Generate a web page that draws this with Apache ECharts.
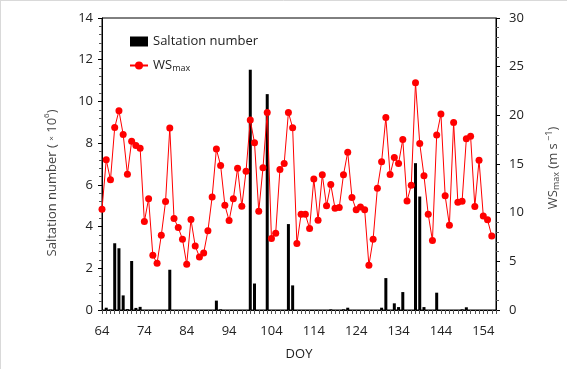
<!DOCTYPE html>
<html>
<head>
<meta charset="utf-8">
<script src="https://cdn.jsdelivr.net/npm/echarts@6/dist/echarts.min.js"></script>
<style>
html,body{margin:0;padding:0;background:#fff;}
#c{width:567px;height:369px;}
</style>
</head>
<body>
<div id="c"></div>
<script>
// DOY categories 64..157
const doy = [];
for (let d = 64; d <= 157; d++) doy.push(String(d));

// Saltation number (x10^6), DOY 64..156
const saltation = [
  0, 0.11, 0.02, 3.2, 2.96, 0.7, 0.04, 2.35, 0.1, 0.15,      // 64-73
  0, 0, 0, 0, 0, 0, 1.93, 0, 0, 0,                           // 74-83
  0, 0, 0, 0, 0, 0, 0, 0.45, 0.03, 0,                        // 84-93
  0, 0, 0, 0, 0, 11.52, 1.27, 0, 0, 10.35,                   // 94-103
  0, 0, 0, 0, 4.12, 1.18, 0, 0, 0, 0,                        // 104-113
  0, 0, 0, 0, 0.03, 0, 0, 0.03, 0.11, 0,                     // 114-123
  0, 0, 0, 0, 0, 0, 0.11, 1.53, 0, 0.32,                     // 124-133
  0.14, 0.86, 0, 0, 7.04, 5.44, 0.14, 0, 0, 0.83,            // 134-143
  0, 0, 0, 0, 0, 0.03, 0.13, 0, 0, 0,                        // 144-153
  0, 0, 0, null                                              // 154-157
];

// WSmax (m s-1), DOY 64..156
const wsmax = [
  10.35, 15.43, 13.37, 18.75, 20.47, 18.03, 13.95, 17.35, 16.9, 16.63,  // 64-73
  9.09, 11.42, 5.62, 4.8, 7.68, 11.14, 18.69, 9.39, 8.47, 7.27,         // 74-83
  4.7, 9.29, 6.58, 5.45, 5.86, 8.13, 11.62, 16.53, 14.85, 10.77,        // 84-93
  9.19, 11.42, 14.57, 10.66, 14.26, 19.51, 17.18, 10.15, 14.61, 20.3,   // 94-103
  7.34, 7.89, 14.43, 15.05, 20.3, 18.72, 6.82, 9.84, 9.84, 8.37,        // 104-113
  13.47, 9.22, 13.89, 10.7, 12.89, 10.46, 10.53, 13.89, 16.22, 11.55,   // 114-123
  10.29, 10.59, 10.29, 4.59, 7.27, 12.51, 15.22, 19.78, 13.92, 15.67,   // 124-133
  15.05, 17.52, 11.21, 12.82, 23.35, 17.11, 13.78, 9.84, 7.13, 17.97,   // 134-143
  20.13, 11.73, 8.71, 19.27, 11.07, 11.18, 17.59, 17.86, 10.63, 15.39,  // 144-153
  9.67, 9.26, 7.61, null                                                // 154-157
];

const FONT = 'Open Sans';
const chart = echarts.init(document.getElementById('c'), null, {renderer: 'canvas'});

const option = {
  animation: false,
  backgroundColor: '#fff',
  textStyle: {fontFamily: FONT},
  grid: {left: 102, right: 71, top: 18, bottom: 59, show: true, borderColor: '#000', borderWidth: 1, backgroundColor: 'transparent'},
  legend: {
    orient: 'vertical', left: 124, top: 30, itemGap: 11, itemWidth: 18, itemHeight: 10,
    data: [
      {name: 'Saltation number', icon: 'rect'},
      {name: 'WSmax'}
    ],
    formatter: function (n) { return n === 'WSmax' ? '{a|WS}{b|max}' : n; },
    textStyle: {fontFamily: FONT, fontSize: 13, color: '#222',
      rich: {a: {fontFamily: FONT, fontSize: 13, color: '#222'}, b: {fontFamily: FONT, fontSize: 9, color: '#222', verticalAlign: 'bottom', padding: [6, 0, 0, 0]}}}
  },
  xAxis: {
    type: 'category', data: doy, boundaryGap: false,
    name: 'DOY', nameLocation: 'middle', nameGap: 38,
    nameTextStyle: {fontFamily: FONT, fontSize: 13, color: '#222'},
    axisLine: {show: true, lineStyle: {color: '#000', width: 1}},
    axisTick: {show: true, interval: 0, length: 4, lineStyle: {color: '#555'}},
    axisLabel: {interval: 9, margin: 15, fontFamily: FONT, fontSize: 13, color: '#222'},
    splitLine: {show: false}
  },
  yAxis: [
    {
      type: 'value', min: 0, max: 14, interval: 2, position: 'left',
      axisLine: {show: true, lineStyle: {color: '#000', width: 1}},
      axisTick: {show: true, length: 4, lineStyle: {color: '#000'}},
      minorTick: {show: true, splitNumber: 5, length: 3, lineStyle: {color: '#555'}},
      axisLabel: {margin: 9, fontFamily: FONT, fontSize: 13, color: '#222'},
      splitLine: {show: false}, minorSplitLine: {show: false}
    },
    {
      type: 'value', min: 0, max: 30, interval: 5, position: 'right',
      axisLine: {show: true, lineStyle: {color: '#000', width: 1}},
      axisTick: {show: true, length: 4, lineStyle: {color: '#000'}},
      minorTick: {show: true, splitNumber: 5, length: 3, lineStyle: {color: '#555'}},
      axisLabel: {margin: 13, fontFamily: FONT, fontSize: 13, color: '#222'},
      splitLine: {show: false}, minorSplitLine: {show: false}
    }
  ],
  series: [
    {
      name: 'Saltation number', type: 'bar', data: saltation, yAxisIndex: 0,
      barWidth: 3, itemStyle: {color: '#000'}, clip: false
    },
    {
      name: 'WSmax', type: 'line', data: wsmax, yAxisIndex: 1,
      symbol: 'circle', symbolSize: 7, showAllSymbol: true,
      lineStyle: {color: '#ff0000', width: 1}, itemStyle: {color: '#ff0000'}
    }
  ],
  graphic: [
    {type: 'line', shape: {x1: 0.5, y1: 0, x2: 0.5, y2: 369}, style: {stroke: '#d9d9d9', lineWidth: 1}},
    {type: 'line', shape: {x1: 0, y1: 0.5, x2: 567, y2: 0.5}, style: {stroke: '#d9d9d9', lineWidth: 1}},
    {
      type: 'text', x: 52, y: 183, rotation: Math.PI / 2,
      style: {
        text: '{t|Saltation number ( }{s|×}{t| 10}{p|6}{t|)}',
        align: 'center', verticalAlign: 'middle',
        rich: {
          t: {fontFamily: FONT, fontSize: 13, fill: '#444', lineHeight: 18},
          s: {fontFamily: FONT, fontSize: 8, fill: '#444', lineHeight: 18},
          p: {fontFamily: FONT, fontSize: 8, fill: '#444', verticalAlign: 'top', lineHeight: 18, padding: [0, 0, 6, 0]}
        }
      }
    },
    {
      type: 'text', x: 553, y: 168, rotation: Math.PI / 2,
      style: {
        text: '{t|WS}{b|max}{t| (m s}{p| −1}{t|)}',
        align: 'center', verticalAlign: 'middle',
        rich: {
          t: {fontFamily: FONT, fontSize: 13, fill: '#444', lineHeight: 18},
          b: {fontFamily: FONT, fontSize: 9, fill: '#444', lineHeight: 18, padding: [7, 0, 0, 0]},
          p: {fontFamily: FONT, fontSize: 9, fill: '#444', lineHeight: 18, padding: [0, 0, 7, 0]}
        }
      }
    }
  ]
};
chart.setOption(option);
</script>
</body>
</html>
